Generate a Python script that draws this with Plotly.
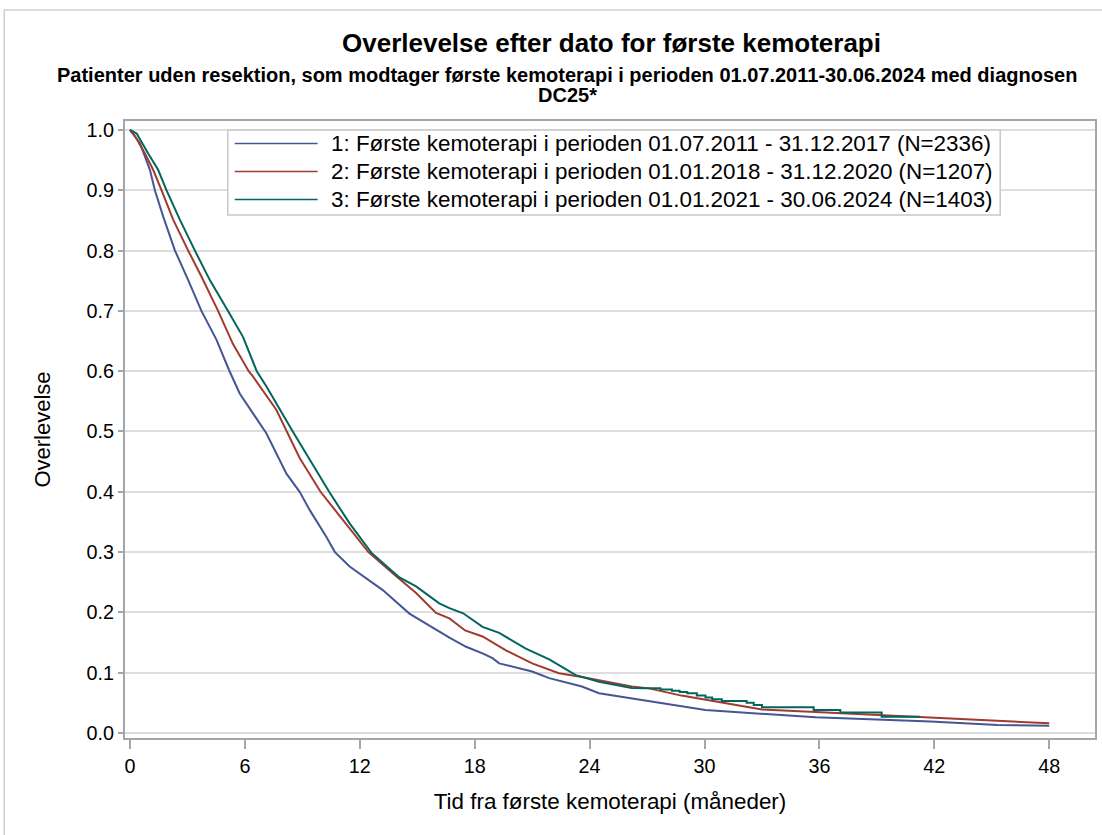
import plotly.graph_objects as go

# Kaplan-Meier survival estimates (months since first chemotherapy, survival proportion)
months_p1 = [0, 0.52, 1.04, 1.30, 1.74, 2.35, 3.04, 3.73, 4.52, 5.17, 5.73, 7.12, 8.17, 8.86,
             9.38, 10.25, 10.7, 11.47, 13.2, 14.59, 16.68, 17.55, 18.41, 18.93, 19.28, 21.0,
             21.89, 23.6, 24.49, 26.2, 27.1, 30.05, 35.8, 41.8, 45.3, 48.0]
surv_p1 = [1.0, 0.978, 0.934, 0.90, 0.856, 0.80, 0.751, 0.70, 0.652, 0.602, 0.563, 0.497, 0.43, 0.40,
           0.37, 0.3255, 0.30, 0.276, 0.237, 0.198, 0.158, 0.143, 0.132, 0.124, 0.1155, 0.102,
           0.091, 0.077, 0.066, 0.0575, 0.052, 0.038, 0.026, 0.019, 0.0133, 0.012]

months_p2 = [0, 0.26, 0.78, 1.21, 1.65, 2.26, 3.04, 3.73, 4.6, 5.38, 6.2, 6.43, 7.64, 8.86, 9.95,
             11.12, 12.45, 13.72, 14.94, 15.98, 16.68, 17.5, 18.41, 19.63, 21.0, 22.4, 23.6,
             26.2, 27.1, 28.8, 30.05, 33.0, 35.8, 41.3, 45.3, 48.0]
surv_p2 = [1.0, 0.99, 0.961, 0.934, 0.90, 0.851, 0.80, 0.757, 0.70, 0.645, 0.60, 0.591, 0.536, 0.456, 0.40,
           0.353, 0.30, 0.265, 0.232, 0.199, 0.190, 0.170, 0.160, 0.137, 0.1155, 0.099, 0.093,
           0.077, 0.074, 0.062, 0.055, 0.039, 0.035, 0.026, 0.020, 0.016]

months_p3 = [0, 0.35, 0.95, 1.47, 1.91, 2.61, 3.39, 4.17, 5.12, 5.9, 6.62, 7.12, 8.5, 8.86, 9.73,
             10.4, 11.46, 12.6, 14.07, 14.94, 16.15, 16.68, 17.4, 18.41, 19.28, 20.67, 21.89,
             23.28, 24.49, 26.2, 27.1]
surv_p3 = [1.0, 0.994, 0.961, 0.934, 0.90, 0.851, 0.80, 0.751, 0.70, 0.657, 0.60, 0.575, 0.50, 0.481, 0.435,
           0.40, 0.348, 0.299, 0.258, 0.243, 0.215, 0.207, 0.1985, 0.176, 0.166, 0.140, 0.122,
           0.096, 0.085, 0.0746, 0.074]
# sparse tail of period 3, where the individual steps are visible
months_p3_tail = [27.1, 27.7, 28.3, 28.7, 29.1, 29.6, 30.05, 30.4, 30.9, 32.2, 32.57, 33.0,
                  35.7, 37.09, 39.25, 41.26]
surv_p3_tail = [0.074, 0.072, 0.070, 0.068, 0.066, 0.062, 0.059, 0.056, 0.053, 0.050, 0.0464, 0.0426,
                0.038, 0.034, 0.027, 0.027]

series_labels = [
    "1: Første kemoterapi i perioden 01.07.2011 - 31.12.2017 (N=2336)",
    "2: Første kemoterapi i perioden 01.01.2018 - 31.12.2020 (N=1207)",
    "3: Første kemoterapi i perioden 01.01.2021 - 30.06.2024 (N=1403)",
]
series_colors = ["#445694", "#A23A2E", "#01665E"]

x_ticks = [0, 6, 12, 18, 24, 30, 36, 42, 48]
y_ticks = [0.0, 0.1, 0.2, 0.3, 0.4, 0.5, 0.6, 0.7, 0.8, 0.9, 1.0]

FONT = "Liberation Sans, Arial, Helvetica, sans-serif"
W, H = 1102, 835
M_L, M_R, M_T, M_B = 125, 5, 121, 97
PW, PH = W - M_L - M_R, H - M_T - M_B


def px(x):
    return (x - M_L) / PW


def py(y):
    return (H - M_B - y) / PH


fig = go.Figure()
fig.add_trace(go.Scatter(x=months_p1, y=surv_p1, mode="lines", name=series_labels[0],
                         line=dict(color=series_colors[0], width=2)))
fig.add_trace(go.Scatter(x=months_p2, y=surv_p2, mode="lines", name=series_labels[1],
                         line=dict(color=series_colors[1], width=2)))
fig.add_trace(go.Scatter(x=months_p3, y=surv_p3, mode="lines", name=series_labels[2],
                         line=dict(color=series_colors[2], width=2)))
fig.add_trace(go.Scatter(x=months_p3_tail, y=surv_p3_tail, mode="lines", name=series_labels[2],
                         line=dict(color=series_colors[2], width=2, shape="hv")))
fig.update_traces(showlegend=False, hoverinfo="skip")

shapes = []
annotations = []

# legend drawn inside the plot area
leg_x0, leg_x1, leg_y0, leg_y1 = 228, 1002, 130, 215
shapes.append(dict(type="rect", xref="paper", yref="paper",
                   x0=px(leg_x0), x1=px(leg_x1), y0=py(leg_y1), y1=py(leg_y0),
                   line=dict(color="#c8c8c8", width=1.5), fillcolor="white", layer="above"))
for i, (lab, col) in enumerate(zip(series_labels, series_colors)):
    row_y = 143.5 + 28 * i
    shapes.append(dict(type="line", xref="paper", yref="paper",
                       x0=px(235), x1=px(318), y0=py(row_y), y1=py(row_y),
                       line=dict(color=col, width=1.5), layer="above"))
    annotations.append(dict(text=lab, xref="paper", yref="paper", x=px(329), y=py(row_y),
                            xanchor="left", yanchor="middle", showarrow=False,
                            font=dict(family=FONT, size=22.4, color="black")))

# outer graph border
shapes.append(dict(type="rect", xref="paper", yref="paper",
                   x0=px(4), x1=px(1110), y0=py(845), y1=py(10),
                   line=dict(color="#d0d0d0", width=1.5), layer="below"))

# titles
annotations.append(dict(text="<b>Overlevelse efter dato for første kemoterapi</b>",
                        xref="paper", yref="paper", x=px(613), y=py(43),
                        xanchor="center", yanchor="middle", showarrow=False,
                        font=dict(family=FONT, size=26, color="black")))
annotations.append(dict(text="<b>Patienter uden resektion, som modtager første kemoterapi i perioden "
                             "01.07.2011-30.06.2024 med diagnosen</b>",
                        xref="paper", yref="paper", x=px(568), y=py(75),
                        xanchor="center", yanchor="middle", showarrow=False,
                        font=dict(family=FONT, size=20, color="black")))
annotations.append(dict(text="<b>DC25*</b>",
                        xref="paper", yref="paper", x=px(568), y=py(95),
                        xanchor="center", yanchor="middle", showarrow=False,
                        font=dict(family=FONT, size=20, color="black")))

fig.update_layout(
    width=W, height=H,
    margin=dict(l=M_L, r=M_R, t=M_T, b=M_B, pad=0),
    paper_bgcolor="white", plot_bgcolor="white",
    font=dict(family=FONT, color="black"),
    shapes=shapes, annotations=annotations,
    showlegend=False,
)
axis_line = "#a3a6ab"
fig.update_xaxes(
    range=[-0.26, 50.39], tickvals=x_ticks, ticktext=[str(v) for v in x_ticks],
    showgrid=False, zeroline=False,
    showline=True, linecolor=axis_line, linewidth=2, mirror=True,
    ticks="outside", ticklen=9, tickwidth=2, tickcolor=axis_line,
    tickfont=dict(family=FONT, size=19.8, color="black"),
    title=dict(text="Tid fra første kemoterapi (måneder)", standoff=18,
               font=dict(family=FONT, size=22.4, color="black")),
)
fig.update_yaxes(
    range=[-0.0083, 1.0149], tickvals=y_ticks, ticktext=[f"{v:.1f}" for v in y_ticks],
    showgrid=True, gridcolor="#dedede", gridwidth=1.5, zeroline=False,
    showline=True, linecolor=axis_line, linewidth=2, mirror=True,
    ticks="outside", ticklen=5, tickwidth=2, tickcolor=axis_line,
    tickfont=dict(family=FONT, size=19.8, color="black"),
    title=dict(text="Overlevelse", standoff=30,
               font=dict(family=FONT, size=22, color="black")),
)

fig.write_html("out.html")
